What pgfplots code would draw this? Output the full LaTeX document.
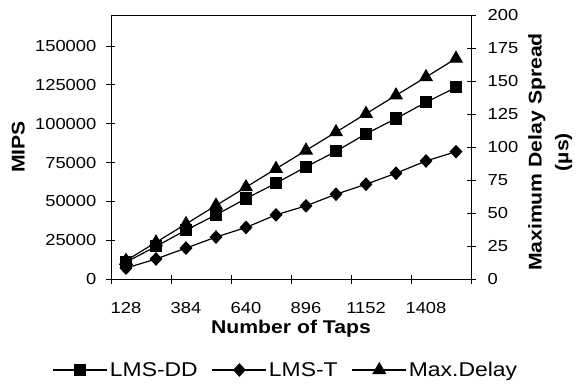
\documentclass[border=0pt]{standalone}
\usepackage{pgfplots}
\pgfplotsset{compat=1.18}
\usepackage{fontspec}
\setmainfont[FakeStretch=1.15]{Liberation Sans}
\pgfplotstableread{
x  dd     t     md
1  10800  7000  13.9
2  21000  12900 27.8
3  31500  19900 41.7
4  41300  27000 55.7
5  51800  33200 69.6
6  61700  41300 83.5
7  72200  47100 97.4
8  82200  54600 111.3
9  93500  61000 125.2
10 103300 68100 139.1
11 113800 76000 153.0
12 123400 82000 167.0
}\datatable
\begin{document}
\begin{tikzpicture}
\pgfplotsset{
  every axis/.append style={
    width=360bp, height=264bp, scale only axis,
    xmin=0.5, xmax=12.5,
    /pgf/number format/fixed,
    /pgf/number format/precision=0,
    /pgf/number format/assume math mode=true,
    /pgf/number format/1000 sep={},
    scaled ticks=false,
    tick label style={font=\fontsize{16}{18}\selectfont, inner sep=0pt},
    tick align=center,
    major tick length=9bp,
    axis line style={line width=0.8bp},
    every tick/.style={black, line width=0.8bp},
    legend image code/.code={\draw[mark repeat=2,mark phase=2] plot coordinates {(0bp,0bp)(27bp,0bp)(54bp,0bp)};},
  },
  ddstyle/.style={black, line width=1.2bp, mark=square*, mark size=5.5bp, mark options={solid}},
  tstyle/.style={black, line width=1.2bp, mark=diamond*, mark size=6bp, mark options={solid, xscale=1.25}},
  mdstyle/.style={black, line width=1.2bp, mark=triangle*, mark size=7bp, mark options={solid}},
}
\begin{axis}[
  name=main,
  ymin=0, ymax=170000,
  ytick={0,25000,...,150000},
  ytick pos=left,
  xtick pos=bottom,
  xtick={0.5,2.5,4.5,6.5,8.5,10.5,12.5},
  xticklabels={128,384,640,896,1152,1408,},
  xticklabel style={anchor=north, xshift=15bp, yshift=-19bp},
  yticklabel style={anchor=east, xshift=-10bp},
  ylabel={\textbf{MIPS}},
  ylabel style={at={(-0.2389,0.5)}, anchor=south, inner sep=0pt, font=\fontsize{18.5}{22}\selectfont},
  xlabel={\textbf{Number of Taps}},
  xlabel style={at={(0.5,-0.1553)}, anchor=north, inner sep=0pt, font=\fontsize{18.5}{22}\selectfont},
]
\addplot[ddstyle] table[x=x, y=dd] {\datatable};
\addplot[tstyle] table[x=x, y=t] {\datatable};
\end{axis}
\begin{axis}[
  ymin=0, ymax=200,
  ytick={0,25,...,200},
  axis y line*=right,
  axis x line=none,
  yticklabel style={anchor=west, xshift=12bp},
  ylabel={\textbf{Maximum Delay Spread}\\\textbf{(µs)}},
  ylabel style={at={(1.1583,0.481)}, anchor=north, inner sep=0pt, align=center, font=\fontsize{18.5}{27}\selectfont},
  legend style={draw=none, fill=none, at={(0.486,-0.3447)}, anchor=center,
    legend columns=3, font=\fontsize{20}{22}\selectfont,
    /tikz/every even column/.append style={column sep=12bp}},
]
\addlegendimage{ddstyle}
\addlegendentry{LMS-DD}
\addlegendimage{tstyle}
\addlegendentry{LMS-T}
\addplot[mdstyle] table[x=x, y=md] {\datatable};
\addlegendentry{Max.Delay}
\end{axis}
\pgfresetboundingbox
\path ([shift={(-111bp,-109bp)}]main.south west) rectangle ([shift={(106bp,15bp)}]main.north east);
\end{tikzpicture}
\end{document}
